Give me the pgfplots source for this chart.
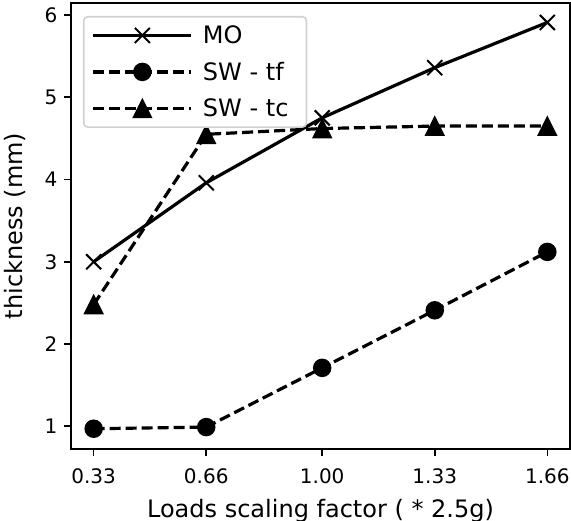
\documentclass[border=0pt]{standalone}
\usepackage{pgfplots}
\pgfplotsset{compat=1.18}
\usepackage{fontspec}
\setmainfont{DejaVu Sans}
\pgfdeclareplotmark{mtri}{%
  \pgfpathmoveto{\pgfqpoint{0pt}{\pgfplotmarksize}}%
  \pgfpathlineto{\pgfqpoint{-\pgfplotmarksize}{-\pgfplotmarksize}}%
  \pgfpathlineto{\pgfqpoint{\pgfplotmarksize}{-\pgfplotmarksize}}%
  \pgfpathclose\pgfusepathqfillstroke}
\pgfdeclareplotmark{mx}{%
  \pgfpathmoveto{\pgfqpoint{-\pgfplotmarksize}{-\pgfplotmarksize}}%
  \pgfpathlineto{\pgfqpoint{\pgfplotmarksize}{\pgfplotmarksize}}%
  \pgfpathmoveto{\pgfqpoint{-\pgfplotmarksize}{\pgfplotmarksize}}%
  \pgfpathlineto{\pgfqpoint{\pgfplotmarksize}{-\pgfplotmarksize}}%
  \pgfusepathqstroke}
\begin{document}
\begin{tikzpicture}[x=1pt,y=1pt]
\begin{axis}[
  at={(0,0)}, anchor=south west,
  scale only axis, width=499pt, height=446pt,
  xmin=0.2635, xmax=1.7265, ymin=0.7235, ymax=6.1465,
  xtick={0.33,0.66,1.00,1.33,1.66},
  xticklabels={0.33,0.66,1.00,1.33,1.66},
  ytick={1,2,3,4,5,6},
  tick align=outside, tick pos=left,
  major tick length=7pt,
  every tick/.style={black, line width=1.6pt},
  axis line style={line width=1.6pt},
  ticklabel style={font=\fontsize{20}{24}\selectfont},
  xticklabel style={yshift=-9pt},
  yticklabel style={xshift=-3pt},
  /pgf/number format/assume math mode=true,
  xlabel={Loads scaling factor ( * 2.5g)},
  ylabel={thickness (mm)},
  label style={font=\fontsize{24}{28}\selectfont},
  xlabel style={at={(rel axis cs:0.5,0)}, anchor=center, yshift=-62pt},
  ylabel style={at={(rel axis cs:0,0.5)}, anchor=center, yshift=56pt},
  legend style={at={(rel axis cs:0.024,0.971)}, anchor=north west,
    draw=black!18, line width=1.6pt, rounded corners=4pt, fill=white,
    font=\fontsize{24}{28}\selectfont, inner xsep=8pt, inner ysep=7pt,
    row sep=13pt, nodes={inner xsep=10pt}},
  legend cell align=left,
  legend image code/.code={%
    \draw[mark repeat=2,mark phase=2,#1] plot coordinates {(-2pt,0pt) (47pt,0pt) (96pt,0pt)};},
]
\addplot[black, line width=3.2pt, mark=mx, mark size=7.5pt, mark options={solid, line width=2pt}]
  coordinates {(0.33,3.00) (0.66,3.96) (1.00,4.75) (1.33,5.36) (1.66,5.91)};
\addlegendentry{MO}
\addplot[black, line width=3.2pt, dash pattern=on 11pt off 5pt, mark=*, mark size=8.5pt, mark options={solid, line width=1.5pt}]
  coordinates {(0.33,0.97) (0.66,0.99) (1.00,1.71) (1.33,2.41) (1.66,3.12)};
\addlegendentry{SW - tf}
\addplot[black, line width=3.2pt, dash pattern=on 11pt off 5pt, mark=mtri, mark size=9pt, mark options={solid, line width=1.5pt}]
  coordinates {(0.33,2.48) (0.66,4.55) (1.00,4.62) (1.33,4.65) (1.66,4.65)};
\addlegendentry{SW - tc}
\end{axis}
\pgfresetboundingbox
\path[use as bounding box] (-71,-72) rectangle (500,449);
\end{tikzpicture}
\end{document}
